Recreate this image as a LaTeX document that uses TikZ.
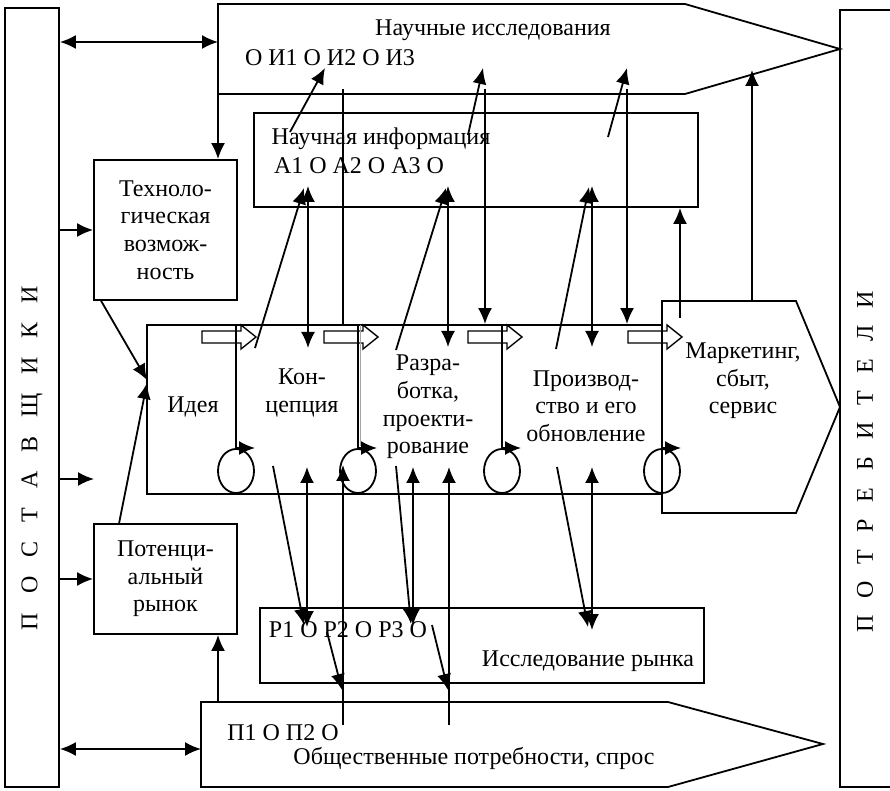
\documentclass[tikz,border=0pt]{standalone}
\usepackage{fontspec}
\setmainfont{Liberation Serif}
\usetikzlibrary{arrows.meta}

\newcommand{\gp}{\hspace{9.5pt}}
\newcommand{\gq}{\hspace{8.5pt}}

\begin{document}
\begin{tikzpicture}[x=0.5pt, y=-0.5pt, line width=0.9pt,
box/.style={draw, inner sep=0pt},
lbl/.style={font=\fontsize{12}{13.8}\selectfont, align=center, inner sep=0pt},
arr/.style={-{Latex[length=8pt,width=7pt]}},
darr/.style={{Latex[length=8pt,width=7pt]}-{Latex[length=8pt,width=7pt]}},
blk/.pic={\draw[fill=white, line width=0.7pt] (-34,-6) -- (5,-6) -- (5,-12) -- (20,0) -- (5,12) -- (5,6) -- (-34,6) -- cycle;}]
\useasboundingbox (0,0) rectangle (890,791);

% suppliers and consumers
\node[box, minimum width=27pt, minimum height=389.5pt] (sup) at (32,397.5) {};
\node[lbl, rotate=90] (supt) at (32,458) {П\gp О\gp С\gp Т\gp А\gp В\gp Щ\gp И\gp К\gp И};
\node[box, minimum width=30pt, minimum height=388.5pt] (cons) at (870,398.5) {};
\node[lbl, rotate=90] (const) at (865,462) {П\gq О\gq Т\gq Р\gq Е\gq Б\gq И\gq Т\gq Е\gq Л\gq И};

% research and demand arrows
\draw (218,4) -- (685,4) -- (840,49) -- (685,94) -- (218,94) -- cycle;
\node[lbl] (sci) at (493,30) {Научные исследования};
\node[lbl] (scii) at (330,58) {О И1 О И2 О И3};
\draw (201,702) -- (668,702) -- (823,744) -- (668,787) -- (201,787) -- cycle;
\node[lbl] (soc) at (474,758) {Общественные потребности, спрос};
\node[lbl] (soci) at (283,733) {П1 О П2 О};

% boxes
\node[box, lbl, minimum width=71.5pt, minimum height=70pt] (tech) at (165.5,230) {Техноло-\\гическая\\возмож-\\ность};
\node[box, lbl, minimum width=71.5pt, minimum height=55pt] (pot) at (165.5,579) {Потенци-\\альный\\рынок};
\node[box, minimum width=222pt, minimum height=47pt] (info) at (476,160) {};
\node[lbl] (infot) at (381,139) {Научная информация};
\node[lbl] (infoi) at (359,166) {А1 О А2 О А3 О};
\node[box, minimum width=222pt, minimum height=37.5pt] (mres) at (482,645.5) {};
\node[lbl] (mrest) at (588,661) {Исследование рынка};
\node[lbl] (mresi) at (348,630) {Р1 О Р2 О Р3 О};

% main process
\node[box, minimum width=257.5pt, minimum height=84.5pt] (proc) at (404.5,409.5) {};
\draw (662,301) -- (796,301) -- (840,407) -- (796,513) -- (662,513) -- cycle;
\foreach \d in {236,358,502,662}
  \pic at (\d,337) {blk};
\foreach \d in {236,358,502,662} {
  \draw[arr] (\d,325) |- (\d+19,448);
  \draw (\d,471) ellipse [x radius=18, y radius=22];
}
\draw[gray!70, line width=0.7pt] (360.5,325) -- (360.5,446);
\node[lbl] (idea) at (193,407) {Идея};
\node[lbl] (conc) at (302,393) {Кон-\\цепция};
\node[lbl] (dev) at (428,407) {Разра-\\ботка,\\проекти-\\рование};
\node[lbl] (prod) at (586,406) {Производ-\\ство и его\\обновление};
\node[lbl] (mark) at (743,381) {Маркетинг,\\сбыт,\\сервис};

% left side links
\coordinate (sciw) at (218,42);
\coordinate (scib) at (218,94);
\coordinate (free) at (94,479);
\coordinate (socw) at (201,749);
\coordinate (soct) at (218,702);
\coordinate (idea1) at (147,380);
\coordinate (idea2) at (147,383);
\draw[darr] (sup.east |- sciw) -- (sciw);
\draw[arr] (scib) -- (scib |- tech.north);
\draw[arr] (sup.east |- tech.west) -- (tech.west);
\draw[arr] (sup.east |- free) -- (free);
\draw[arr] (sup.east |- pot.west) -- (pot.west);
\draw[darr] (sup.east |- socw) -- (socw);
\draw[arr] (soct) -- (soct |- pot.south);
\draw[arr] ([xshift=4pt]tech.south west) -- (idea1);
\draw[arr] ([xshift=13pt]pot.north west) -- (idea2);

% links between research, information and stages
\coordinate (t1) at (290,132); \coordinate (t1e) at (325,68);
\coordinate (t2) at (468,135); \coordinate (t2e) at (483,68);
\coordinate (t3) at (608,137); \coordinate (t3e) at (627,68);
\coordinate (v1) at (343,89); \coordinate (v2) at (485,89); \coordinate (v3) at (627,89);
\coordinate (k1) at (255,348); \coordinate (k1e) at (304,188);
\coordinate (k2) at (308,348); \coordinate (k2e) at (308,186);
\coordinate (k3) at (396,350); \coordinate (k3e) at (446,188);
\coordinate (k4) at (448,347); \coordinate (k4e) at (448,186);
\coordinate (k5) at (556,349); \coordinate (k5e) at (589,187);
\coordinate (k6) at (592,347); \coordinate (k6e) at (592,186);
\coordinate (m1) at (680,318);
\coordinate (m2) at (752,301); \coordinate (m2e) at (752,70);
\draw[arr] (t1) -- (t1e);
\draw[arr] (t2) -- (t2e);
\draw[arr] (t3) -- (t3e);
\draw (v1) -- (v1 |- proc.north);
\draw[arr] (v2) -- (v2 |- proc.north);
\draw[arr] (v3) -- (v3 |- proc.north);
\draw[arr] (k1) -- (k1e);
\draw[darr] (k2) -- (k2e);
\draw[arr] (k3) -- (k3e);
\draw[darr] (k4) -- (k4e);
\draw[arr] (k5) -- (k5e);
\draw[darr] (k6) -- (k6e);
\draw[arr] (m1) -- (m1 |- info.south);
\draw[arr] (m2) -- (m2e);

% links between stages, market research and demand
\coordinate (r1) at (273,466); \coordinate (r1e) at (304,625);
\coordinate (r2) at (307,467); \coordinate (r2e) at (307,627);
\coordinate (r3) at (343,725); \coordinate (r3e) at (343,465);
\coordinate (r4) at (327,632); \coordinate (r4e) at (342,690);
\coordinate (r5) at (396,466); \coordinate (r5e) at (411,624);
\coordinate (r6) at (413,467); \coordinate (r6e) at (413,625);
\coordinate (r7) at (449,725); \coordinate (r7e) at (449,467);
\coordinate (r8) at (432,625); \coordinate (r8e) at (448,690);
\coordinate (r9) at (557,467); \coordinate (r9e) at (588,627);
\coordinate (r10) at (592,467); \coordinate (r10e) at (592,630);
\draw[arr] (r1) -- (r1e);
\draw[darr] (r2) -- (r2e);
\draw[arr] (r3) -- (r3e);
\draw[arr] (r4) -- (r4e);
\draw[arr] (r5) -- (r5e);
\draw[darr] (r6) -- (r6e);
\draw[arr] (r7) -- (r7e);
\draw[arr] (r8) -- (r8e);
\draw[arr] (r9) -- (r9e);
\draw[darr] (r10) -- (r10e);
\end{tikzpicture}
\end{document}
